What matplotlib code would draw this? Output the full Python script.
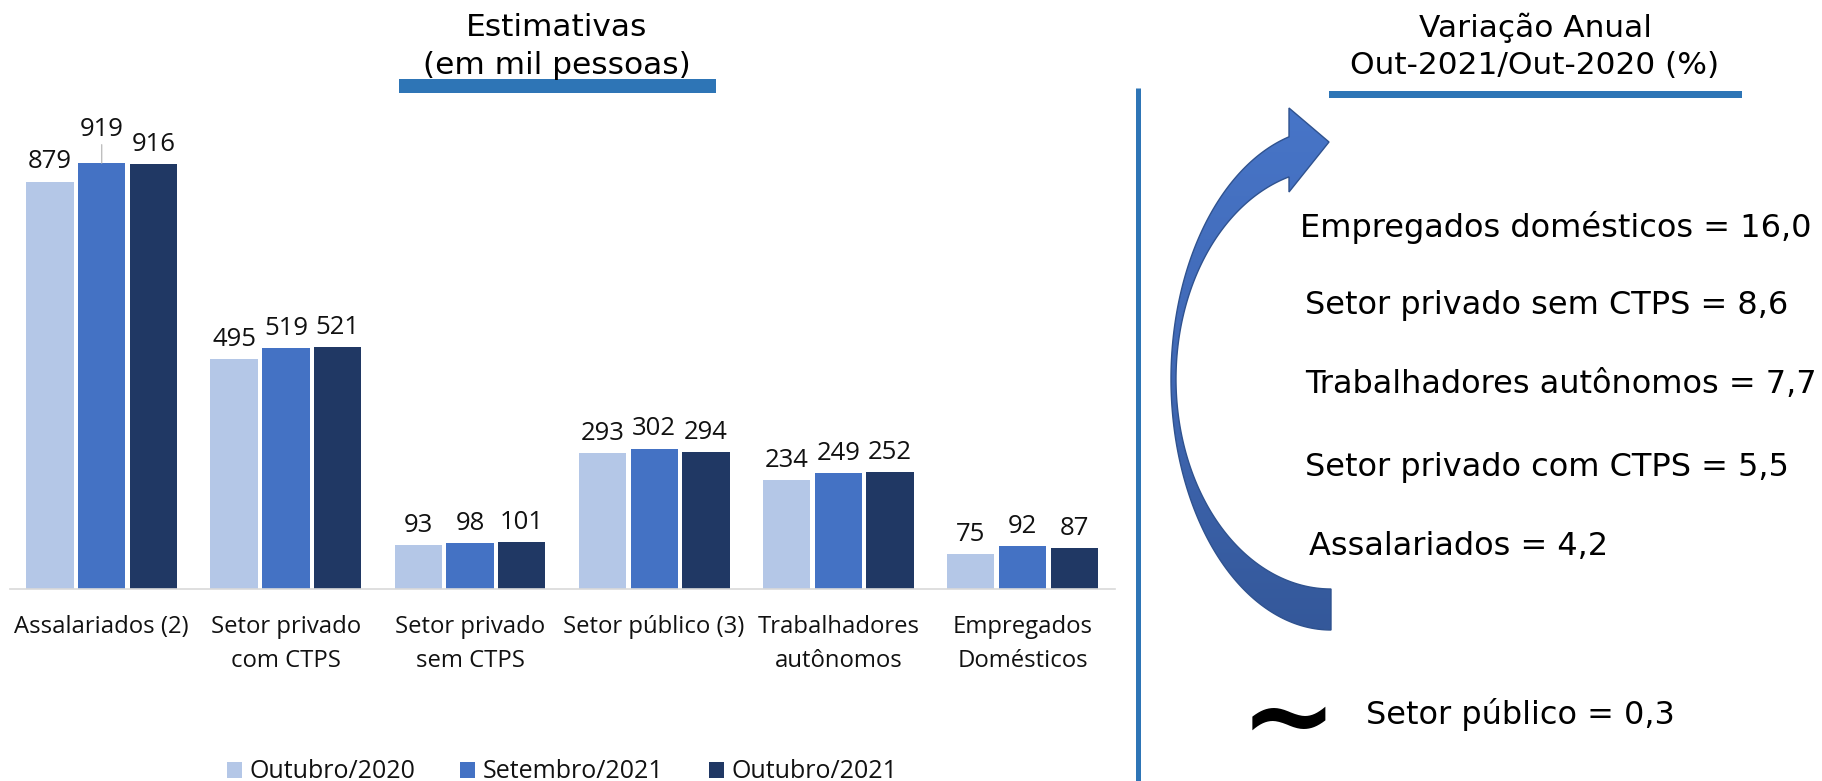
import numpy as np
import matplotlib
matplotlib.use('Agg')
import matplotlib.pyplot as plt
from matplotlib.patches import Polygon, Rectangle, Patch
from matplotlib.colors import LinearSegmentedColormap
from matplotlib.font_manager import FontProperties

# ---------------- data ----------------
categories = ['Assalariados (2)', 'Setor privado\ncom CTPS', 'Setor privado\nsem CTPS',
              'Setor público (3)', 'Trabalhadores\nautônomos', 'Empregados\nDomésticos']
series_names = ['Outubro/2020', 'Setembro/2021', 'Outubro/2021']
out_2020 = [879, 495, 93, 293, 234, 75]
set_2021 = [919, 519, 98, 302, 249, 92]
out_2021 = [916, 521, 101, 294, 252, 87]
series_colors = ['#B4C7E7', '#4472C4', '#203864']

var_labels = ['Empregados domésticos', 'Setor privado sem CTPS',
              'Trabalhadores autônomos', 'Setor privado com CTPS', 'Assalariados']
var_values = [16.0, 8.6, 7.7, 5.5, 4.2]
stable_label = 'Setor público'
stable_value = 0.3

title_left = 'Estimativas\n(em mil pessoas)'
title_right = 'Variação Anual\nOut-2021/Out-2020 (%)'


def br(v):
    return f'{v:.1f}'.replace('.', ',')


# ---------------- figure ----------------
W, H = 1822, 781
fig = plt.figure(figsize=(W / 100, H / 100), dpi=100)
fig.patch.set_facecolor('white')

OPEN = 'Open Sans'
TXT = '#111111'

# bar chart axes (pixel layout)
base_px, top_px = 588.5, 100
px_per_unit = 0.463
ax = fig.add_axes([9.6 / W, 1 - base_px / H, 1105 / W, (base_px - top_px) / H])
ax.set_xlim(-0.5, 5.5)
ax.set_ylim(0, (base_px - top_px) / px_per_unit)

x = np.arange(len(categories))
step, width = 0.2807, 0.257
all_series = [out_2020, set_2021, out_2021]
for i, (vals, col, name) in enumerate(zip(all_series, series_colors, series_names)):
    xs = x + (i - 1) * step
    ax.bar(xs, vals, width, color=col, label=name, zorder=2)
    for j, (xx, v) in enumerate(zip(xs, vals)):
        if i == 1 and j == 0:
            ax.annotate(str(v), xy=(xx, v), xytext=(0, 19.5), textcoords='offset points',
                        ha='center', va='baseline', fontsize=18.5, family=OPEN, color=TXT,
                        arrowprops=dict(arrowstyle='-', color='#BFBFBF', lw=1,
                                        shrinkA=0, shrinkB=0))
        else:
            ax.annotate(str(v), xy=(xx, v), xytext=(0, 9.5), textcoords='offset points',
                        ha='center', va='baseline', fontsize=18.5, family=OPEN, color=TXT)

for s in ['top', 'left', 'right']:
    ax.spines[s].set_visible(False)
ax.spines['bottom'].set_color('#D9D9D9')
ax.spines['bottom'].set_linewidth(1.2)
ax.set_yticks([])
ax.set_xticks(x)
ax.set_xticklabels(categories, fontsize=17.2, family=OPEN, color=TXT, linespacing=1.56)
ax.tick_params(axis='x', length=0, pad=19)
ax.patch.set_alpha(0)

# legend
handles = [Patch(facecolor=c, edgecolor='none') for c in series_colors]
fig.legend(handles, series_names, loc='center', bbox_to_anchor=(562 / W, 1 - 772 / H),
           ncol=3, frameon=False, prop=FontProperties(family=OPEN, size=18),
           handlelength=0.6, handleheight=0.6, handletextpad=0.3, columnspacing=1.8,
           labelcolor=TXT)

# ---------------- overlay (pixel coordinates, y down) ----------------
ov = fig.add_axes([0, 0, 1, 1])
ov.patch.set_alpha(0)
ov.axis('off')

BLUE_LINE = '#2E75B6'
ov.text(557, 13.3, title_left, ha='center', va='top', fontsize=22.5,
        linespacing=1.36, color='black')
ov.add_patch(Rectangle((399, 79), 317, 14, color=BLUE_LINE, lw=0))
ov.text(1535, 12.3, title_right, ha='center', va='top', fontsize=22.5,
        linespacing=1.38, color='black')
ov.add_patch(Rectangle((1329, 91), 413, 7, color=BLUE_LINE, lw=0))
ov.plot([1138, 1138], [88, H], color=BLUE_LINE, lw=3.6, solid_capstyle='butt')

# right-hand texts
text_x = [1300, 1305, 1305, 1305, 1309]
text_base = [237, 314, 393, 476, 555]
for lab, val, tx, ty in zip(var_labels, var_values, text_x, text_base):
    ov.text(tx, ty, f'{lab} = {br(val)}', ha='left', va='baseline', fontsize=23,
            color='black')
ov.text(1366, 724, f'{stable_label} = {br(stable_value)}', ha='left', va='baseline',
        fontsize=23, color='black')
ov.text(1288, 779.5, '~', ha='center', va='bottom', fontsize=84, fontweight='bold',
        color='black')

# curved arrow
cx, cy = 1331, 379
ao, bo = 160, 251
ai, bi = 155, 210
xb = 1289
phi_o = 2 * np.pi - np.arccos((xb - cx) / ao)
phi_i = 2 * np.pi - np.arccos((xb - cx) / ai)
t_o = np.linspace(phi_o, np.pi / 2, 200)
t_i = np.linspace(np.pi / 2, phi_i, 200)
outer = np.column_stack([cx + ao * np.cos(t_o), cy + bo * np.sin(t_o)])
inner = np.column_stack([cx + ai * np.cos(t_i), cy + bi * np.sin(t_i)])
head = np.array([[xb, 192], [1329, 142], [xb, 108]])
pts = np.vstack([outer, inner, head])
poly = Polygon(pts, closed=True, facecolor='none', edgecolor='#2F528F', lw=1.0, zorder=5)
ov.add_patch(poly)
cmap = LinearSegmentedColormap.from_list('arr', ['#4775C8', '#4169B5', '#34589A'])
grad = np.linspace(0, 1, 256).reshape(-1, 1)
im = ov.imshow(grad, extent=(pts[:, 0].min(), pts[:, 0].max(), pts[:, 1].max(), pts[:, 1].min()),
               cmap=cmap, aspect='auto', origin='upper', zorder=4, interpolation='bilinear')
im.set_clip_path(poly)

ov.set_xlim(0, W)
ov.set_ylim(H, 0)

fig.savefig('out.png', dpi=100, facecolor='white')
